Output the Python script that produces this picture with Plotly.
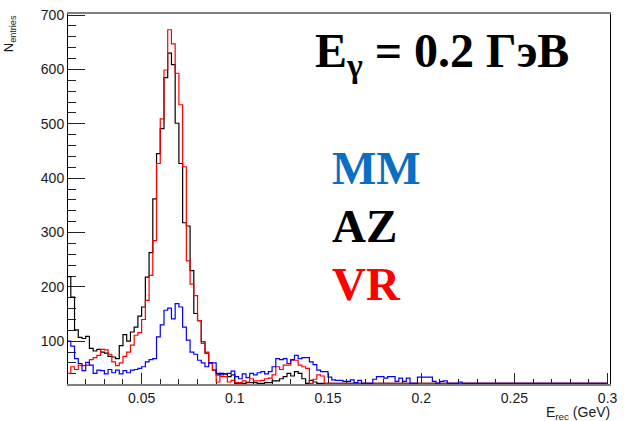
import numpy as np
import plotly.graph_objects as go

# Histogram binning: 0.002 GeV bins starting at 0.010 GeV
E_LO = 0.010
BIN_W = 0.002

# Reconstructed photon energy spectra (entries per bin), E_gamma = 0.2 GeV
mm_counts = [
    100, 91, 68, 59, 46, 61, 56, 41, 47, 46,
    40, 48, 42, 47, 40, 46, 42, 47, 48, 50,
    53, 62, 66, 68, 108, 130, 157, 161, 141, 169,
    163, 126, 102, 80, 76, 65, 60, 53, 60, 60,
    41, 38, 40, 41, 45, 35, 31, 40, 33, 41,
    38, 42, 44, 40, 44, 53, 68, 66, 68, 59,
    66, 74, 68, 70, 70, 62, 57, 47, 44, 44,
    34, 29, 28, 28, 26, 26, 29, 24, 28, 22,
    22, 22, 30, 35, 35, 32, 35, 35, 26, 32,
    26, 32, 22, 22, 34, 34, 34, 34, 26, 22,
    26, 27, 22, 18, 17, 25, 14, 12, 11, 13,
    10, 9, 11, 8, 9, 7, 8, 6, 7, 5,
    6, 5, 4, 5, 4, 3, 4, 3, 3, 2,
    3, 2, 2, 3, 2, 1, 2, 1, 2, 1,
    1, 1, 0, 1, 1,
]

az_counts = [
    219, 181, 121, 107, 105, 109, 87, 82, 85, 80,
    78, 72, 71, 68, 92, 112, 100, 117, 126, 146,
    163, 218, 263, 362, 445, 491, 585, 630, 609, 501,
    427, 318, 312, 230, 151, 138, 99, 78, 60, 47,
    38, 41, 40, 35, 38, 22, 22, 22, 24, 24,
    24, 22, 22, 24, 24, 27, 27, 31, 35, 41,
    36, 44, 41, 31, 22, 28, 25, 16, 14, 12,
    10, 9, 8, 6, 7, 5, 4, 5, 3, 4,
    3, 2, 3, 2, 2, 1, 2, 1, 1, 2,
    1, 1, 0, 1, 1, 0, 1, 0, 0, 1,
    0, 1, 0, 0, 0, 1, 0, 0, 0, 0,
    0, 0, 0, 0, 0, 0, 0, 0, 0, 0,
    0, 0, 0, 0, 0, 0, 0, 0, 0, 0,
    0, 0, 0, 0, 0, 0, 0, 0, 0, 0,
    0, 0, 0, 0, 0,
]

vr_counts = [
    41, 53, 48, 56, 55, 56, 66, 70, 74, 85,
    84, 76, 62, 55, 60, 72, 80, 93, 111, 116,
    140, 175, 221, 285, 427, 509, 599, 673, 647, 593,
    535, 421, 248, 205, 184, 138, 96, 80, 59, 47,
    25, 35, 35, 25, 28, 24, 24, 27, 25, 31,
    27, 27, 28, 31, 32, 38, 53, 48, 56, 56,
    65, 65, 56, 53, 50, 20, 30, 38, 36, 15,
    12, 10, 9, 8, 7, 6, 5, 6, 4, 5,
    4, 3, 3, 4, 2, 3, 2, 2, 3, 2,
    2, 1, 2, 1, 1, 2, 1, 1, 0, 1,
    2, 2, 1, 0, 1, 0, 0, 1, 0, 0,
    0, 0, 0, 0, 0, 0, 0, 0, 0, 0,
    0, 0, 0, 0, 0, 0, 0, 0, 0, 0,
    0, 0, 0, 0, 0, 0, 0, 0, 0, 0,
    0, 0, 0, 0, 0,
]

x_tick_vals = [0.05, 0.1, 0.15, 0.2, 0.25, 0.3]
x_tick_text = ["0.05", "0.1", "0.15", "0.2", "0.25", "0.3"]
y_tick_vals = [100, 200, 300, 400, 500, 600, 700]

X_RANGE = [0.0105, 0.3013]
Y_RANGE = [21.3, 702.0]

n_bins = len(mm_counts)
edges = E_LO + BIN_W * np.arange(n_bins + 1)


def step_xy(counts):
    """Histogram outline; contents below the frame minimum sit on the frame."""
    c = np.asarray(counts, dtype=float)
    c = np.maximum(c, Y_RANGE[0] + 1.0)
    return edges, np.append(c, c[-1])


fig = go.Figure()
for counts, colour, name in [
    (az_counts, "#000000", "AZ"),
    (vr_counts, "#ff0000", "VR"),
    (mm_counts, "#0000ff", "MM"),
]:
    xs, ys = step_xy(counts)
    fig.add_trace(go.Scatter(
        x=xs, y=ys, mode="lines", name=name,
        line=dict(color=colour, width=1.2, shape="hv"),
        hoverinfo="skip", showlegend=False,
    ))

tick_font = dict(family="Liberation Sans, Arial, sans-serif", size=14, color="#1a1a1a")

fig.update_xaxes(
    range=X_RANGE, tickmode="array", tickvals=x_tick_vals, ticktext=x_tick_text,
    ticks="inside", ticklen=11, tickwidth=1, tickcolor="#222222",
    minor=dict(dtick=0.01, tick0=0, ticks="inside", ticklen=5.5, tickcolor="#222222", tickwidth=1),
    showline=True, linecolor="#7f7f7f", linewidth=2, mirror=True,
    showgrid=False, zeroline=False, tickfont=tick_font, layer="below traces",
)
fig.update_yaxes(
    range=Y_RANGE, tickmode="array", tickvals=y_tick_vals,
    ticks="inside", ticklen=17, tickwidth=1, tickcolor="#222222",
    minor=dict(dtick=20, tick0=0, ticks="inside", ticklen=8, tickcolor="#222222", tickwidth=1),
    showline=True, linecolor="#000000", linewidth=1, mirror=True,
    showgrid=False, zeroline=False, tickfont=tick_font, layer="below traces",
)

L, R, T, B = 68, 7, 12, 37
W, H = 624, 421
PW, PH = W - L - R, H - T - B


def px_to_paper(px, py):
    return (px - L) / PW, (H - B - py) / PH


annotations = []

# axis titles
ax, ay = px_to_paper(9, 11)
annotations.append(dict(
    text="N<sub>entries</sub>", x=ax, y=ay, xref="paper", yref="paper",
    xanchor="center", yanchor="top", textangle=-90, showarrow=False,
    font=dict(family="Liberation Sans, Arial, sans-serif", size=13, color="#1a1a1a"),
))
ax, ay = px_to_paper(619, 413.5)
annotations.append(dict(
    text="E<sub>rec</sub> (GeV)", x=ax, y=ay, xref="paper", yref="paper",
    xanchor="right", yanchor="middle", showarrow=False,
    font=dict(family="Liberation Sans, Arial, sans-serif", size=14, color="#1a1a1a"),
))

serif = "Liberation Serif, Times New Roman, serif"
ax, ay = px_to_paper(316, 52)
annotations.append(dict(
    text="<b>E<sub>γ</sub> = 0.2 ГэВ</b>", x=ax, y=ay, xref="paper", yref="paper",
    xanchor="left", yanchor="middle", showarrow=False,
    font=dict(family=serif, size=48, color="#000000"),
))
for label, colour, cy in [("MM", "#0a6fc2", 166.5), ("AZ", "#000000", 225), ("VR", "#ff0000", 283.5)]:
    ax, ay = px_to_paper(333, cy)
    annotations.append(dict(
        text="<b>%s</b>" % label, x=ax, y=ay, xref="paper", yref="paper",
        xanchor="left", yanchor="middle", showarrow=False,
        font=dict(family=serif, size=47, color=colour),
    ))

fig.update_layout(
    width=W, height=H,
    margin=dict(l=L, r=R, t=T, b=B, pad=0),
    paper_bgcolor="white", plot_bgcolor="white",
    annotations=annotations,
)

fig.write_html("out.html")
